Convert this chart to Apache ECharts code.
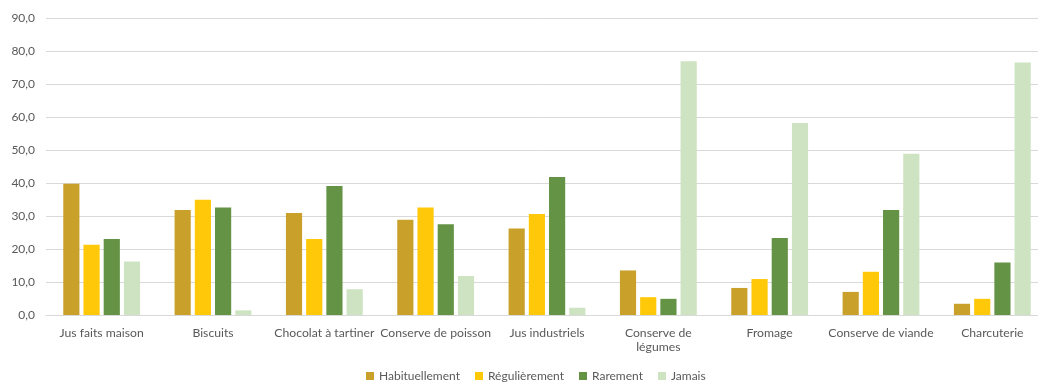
<!DOCTYPE html>
<html><head><meta charset="utf-8">
<script src="https://cdn.jsdelivr.net/npm/echarts@6/dist/echarts.min.js"></script>
<style>html,body{margin:0;padding:0;background:#fff}#c{width:1038px;height:383px}</style>
</head><body><div id="c"></div>
<script>
var categories = ["Jus faits maison","Biscuits","Chocolat à tartiner","Conserve de poisson","Jus industriels","Conserve de\nlégumes","Fromage","Conserve de viande","Charcuterie"];
var seriesNames = ["Habituellement","Régulièrement","Rarement","Jamais"];
var habituellement = [39.8,31.8,30.9,28.9,26.2,13.5,8.2,7.0,3.4];
var regulierement = [21.3,34.9,23.0,32.6,30.6,5.4,10.9,13.1,4.9];
var rarement = [23.0,32.6,39.1,27.5,41.8,4.9,23.3,31.8,15.9];
var jamais = [16.2,1.4,7.8,11.8,2.2,76.9,58.2,48.9,76.5];
var colors = ["#C9A02A","#FFC90A","#649345","#CDE3C1"];
var data = [habituellement, regulierement, rarement, jamais];
var font = "Lato, 'Open Sans', sans-serif";
var chart = echarts.init(document.getElementById('c'));
chart.setOption({
  animation:false,
  textStyle:{fontFamily:font},
  grid:{left:46,width:1002,top:18,height:297,outerBoundsMode:'none',containLabel:false},
  legend:{top:365,left:361,itemWidth:8,itemHeight:8,itemGap:15,icon:'rect',
    textStyle:{color:'#595959',fontSize:12,fontFamily:font},data:seriesNames},
  xAxis:{type:'category',data:categories,
    axisLine:{lineStyle:{color:'#D9D9D9'}},axisTick:{show:false},
    axisLabel:{color:'#595959',fontSize:12.2,interval:0,margin:11,lineHeight:14,fontFamily:font}},
  yAxis:{type:'value',min:0,max:90,interval:10,
    axisLabel:{color:'#595959',fontSize:12,margin:11,fontFamily:font,formatter:function(v){return v.toFixed(1).replace('.',',');}},
    splitLine:{lineStyle:{color:'#D9D9D9'}}},
  series: seriesNames.map(function(n,i){return {name:n,type:'bar',data:data[i],
    barGap:'25%',barCategoryGap:'31%',itemStyle:{color:colors[i]}};})
});
</script></body></html>
